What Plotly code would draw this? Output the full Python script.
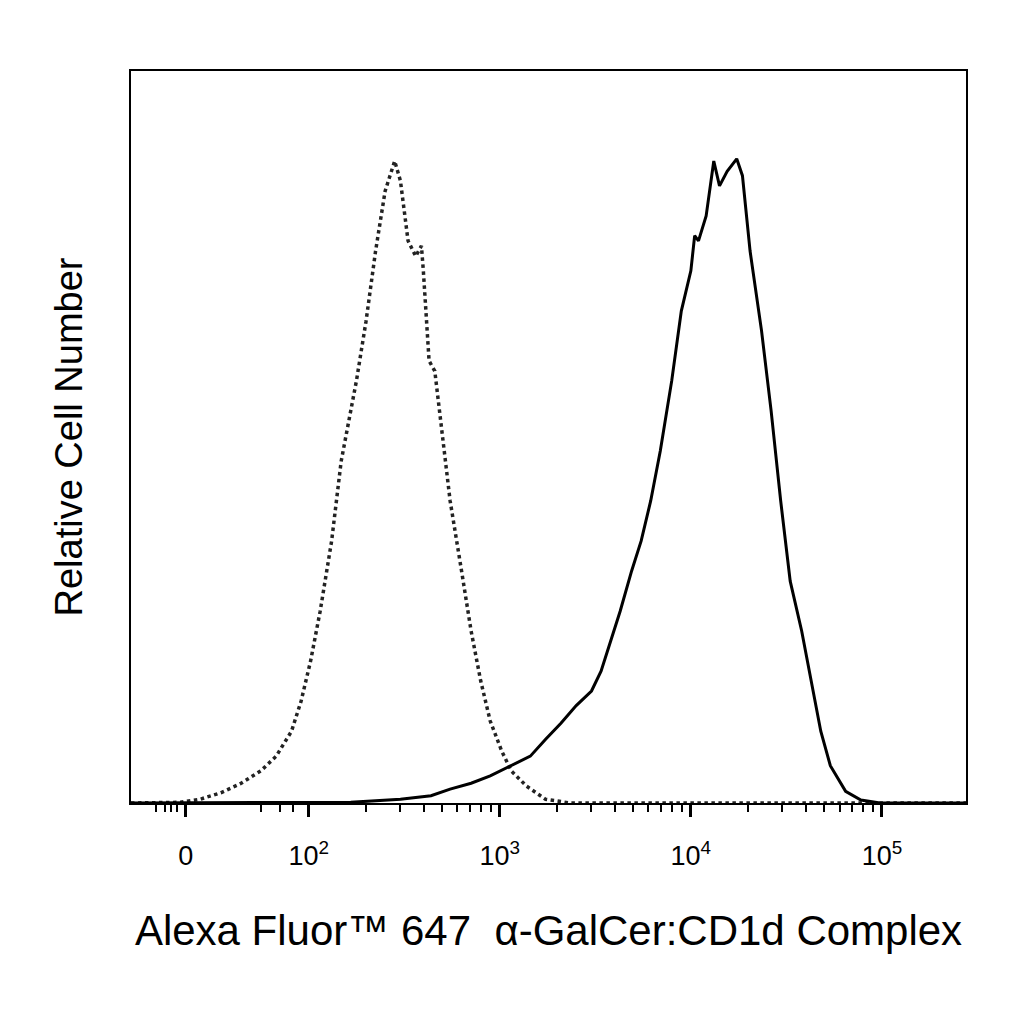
import plotly.graph_objects as go
import numpy as np

# x in display decades (biexponential-like scale), y in % of plot height
iso_x = [1.07, 1.33, 1.43, 1.54, 1.64, 1.75, 1.83, 1.91, 1.96, 2.01, 2.06, 2.12, 2.17, 2.25, 2.30, 2.35,
         2.40, 2.45, 2.48, 2.52, 2.56, 2.59, 2.60, 2.63, 2.66, 2.69, 2.74, 2.80, 2.85, 2.90, 2.95, 3.01,
         3.06, 3.14, 3.24, 3.37, 5.44]
iso_y = [0, 0.1, 0.5, 1.4, 2.6, 4.4, 6.4, 9.8, 13.9, 19.4, 26.2, 35.8, 46.7, 57.7, 65.8, 75.4,
         83.6, 87.7, 85.0, 76.8, 74.7, 76.1, 72.7, 60.4, 59.0, 52.2, 41.3, 31.7, 23.5, 16.7, 11.2, 7.1,
         4.4, 2.3, 0.5, 0, 0]

stain_x = [1.07, 2.22, 2.48, 2.64, 2.74, 2.85, 2.95, 3.06, 3.16, 3.24, 3.32, 3.40, 3.48, 3.53, 3.58,
           3.63, 3.69, 3.74, 3.79, 3.84, 3.90, 3.95, 4.00, 4.02, 4.04, 4.08, 4.12, 4.15, 4.19, 4.24,
           4.27, 4.31, 4.37, 4.42, 4.47, 4.52, 4.58, 4.63, 4.68, 4.73, 4.81, 4.89, 4.99, 5.44]
stain_y = [0, 0.1, 0.5, 1.0, 1.9, 2.7, 3.7, 5.1, 6.4, 8.7, 10.9, 13.3, 15.3, 18.0, 22.1,
           26.2, 31.7, 35.8, 41.3, 48.1, 57.7, 67.2, 72.7, 77.5, 76.8, 80.2, 87.7, 84.3, 86.3, 88.0,
           85.7, 75.4, 64.5, 53.6, 41.3, 30.3, 23.5, 16.7, 9.8, 5.1, 1.6, 0.4, 0, 0]

tick_pos = [1.356, 2, 3, 4, 5]
tick_text = ["0", "10<sup>2</sup>", "10<sup>3</sup>", "10<sup>4</sup>", "10<sup>5</sup>"]
minor_pos = [k + np.log10(m) for k in (2, 3, 4) for m in range(2, 10)] + [1.75, 1.85, 1.92, 1.2, 1.25, 1.28, 1.31]

fig = go.Figure()
fig.add_trace(go.Scatter(x=iso_x, y=iso_y, mode="lines",
                         line=dict(color="#222", width=3.5, dash="dot")))
fig.add_trace(go.Scatter(x=stain_x, y=stain_y, mode="lines",
                         line=dict(color="black", width=3)))

fig.update_layout(
    width=1024, height=1024, showlegend=False,
    plot_bgcolor="white", paper_bgcolor="white",
    margin=dict(l=123, r=66, t=63, b=229),
    font=dict(family="Liberation Sans, Arial", color="black"),
)
fig.update_xaxes(range=[1.07, 5.44], showgrid=False, zeroline=False,
                 showline=True, linecolor="black", linewidth=2, mirror=True,
                 tickvals=tick_pos, ticktext=tick_text, ticks="outside",
                 ticklen=12, tickwidth=3, tickcolor="black", tickfont=dict(size=27),
                 ticklabelstandoff=16,
                 minor=dict(tickvals=minor_pos, ticks="outside", ticklen=7,
                            tickwidth=2, tickcolor="black"),
                 title=dict(text="Alexa Fluor™ 647  α-GalCer:CD1d Complex",
                            font=dict(size=42), standoff=45))
fig.update_yaxes(range=[0, 100], showgrid=False, zeroline=False,
                 showline=True, linecolor="black", linewidth=2, mirror=True,
                 showticklabels=False, ticks="",
                 title=dict(text="Relative Cell Number", font=dict(size=38), standoff=35))

fig.write_html("out.html")
